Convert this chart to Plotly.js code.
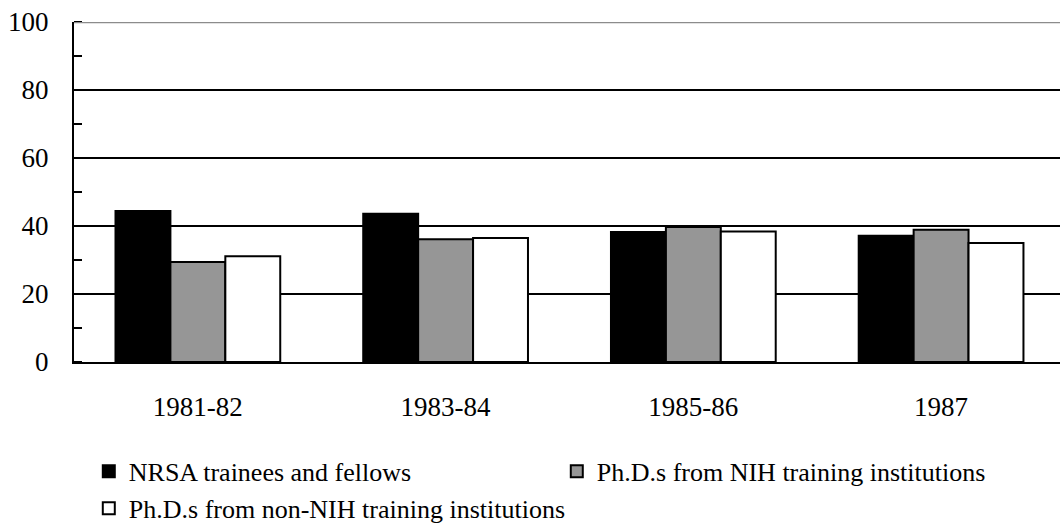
<!DOCTYPE html>
<html>
<head>
<meta charset="utf-8">
<script src="https://cdn.plot.ly/plotly-3.0.1.min.js"></script>
<style>html,body{margin:0;padding:0;background:#fff;overflow:hidden;}#chart{width:1060px;height:527px;}</style>
</head>
<body>
<div id="chart"></div>
<script>
var categories = ["1981-82", "1983-84", "1985-86", "1987"];
var nrsa = [44.4, 43.6, 38.2, 37.1];
var nihPhd = [29.4, 36.1, 39.7, 38.9];
var nonNihPhd = [31.1, 36.5, 38.4, 35.0];
var seriesNames = ["NRSA trainees and fellows", "Ph.D.s from NIH training institutions", "Ph.D.s from non-NIH training institutions"];
var yTicks = [0, 20, 40, 60, 80, 100];

var FONT = "'Liberation Serif', 'Times New Roman', serif";
function idx(a){ return a.map(function(_, i){ return i; }); }
var x = idx(categories);

var traces = [
  {type: "bar", name: seriesNames[0], x: x, y: nrsa, marker: {color: "#000000", line: {color: "#000000", width: 2}}},
  {type: "bar", name: seriesNames[1], x: x, y: nihPhd, marker: {color: "#969696", line: {color: "#000000", width: 2}}},
  {type: "bar", name: seriesNames[2], x: x, y: nonNihPhd, marker: {color: "#ffffff", line: {color: "#000000", width: 2}}}
];

var layout = {
  width: 1060, height: 527,
  margin: {l: 74, r: 0, t: 22, b: 165, autoexpand: false},
  paper_bgcolor: "#fff", plot_bgcolor: "#fff",
  font: {family: FONT, size: 27, color: "#000"},
  barmode: "group", bargap: 0.335, bargroupgap: 0,
  showlegend: true,
  hovermode: false,
  xaxis: {
    range: [-0.5, 3.48], tickmode: "array", tickvals: x, ticktext: categories,
    showgrid: false, zeroline: false, showline: true, linecolor: "#000", linewidth: 2,
    ticks: "", ticklabelstandoff: 20, tickfont: {family: FONT, size: 27, color: "#000"}
  },
  yaxis: {
    range: [0, 100], tickmode: "array", tickvals: yTicks, ticktext: yTicks.map(String),
    showgrid: true, gridcolor: "#000", gridwidth: 2, zeroline: false,
    showline: true, linecolor: "#000", linewidth: 2, ticks: "",
    ticklabelstandoff: 18, tickfont: {family: FONT, size: 27, color: "#000"},
    minor: {ticks: "inside", ticklen: 8, tickwidth: 2, tickcolor: "#000", dtick: 10, tick0: 0, showgrid: false}
  },
  legend: {
    orientation: "h", x: 0.015, xanchor: "left", yref: "container", y: 0.15, yanchor: "top",
    entrywidth: 423, entrywidthmode: "pixels",
    font: {family: FONT, size: 26, color: "#000"}, traceorder: "normal",
    bgcolor: "rgba(0,0,0,0)"
  },
  shapes: [
    {type: "line", xref: "paper", yref: "y", x0: 0, x1: 1, y0: 100, y1: 100, line: {color: "#8c8c8c", width: 2.5}, layer: "above"}
  ]
};

Plotly.newPlot("chart", traces, layout, {displayModeBar: false, staticPlot: true});
</script>
</body>
</html>
